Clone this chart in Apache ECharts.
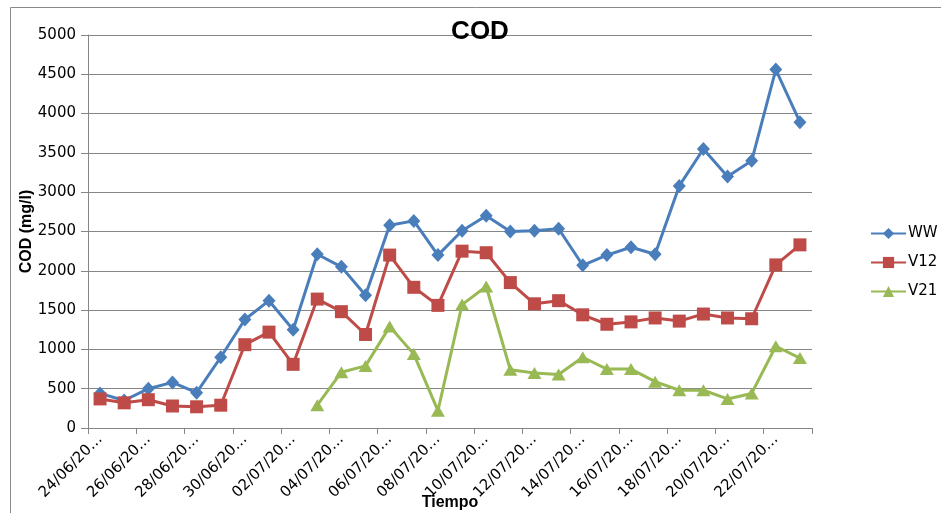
<!DOCTYPE html>
<html>
<head>
<meta charset="utf-8">
<title>COD</title>
<script src="https://cdn.jsdelivr.net/npm/echarts@6/dist/echarts.min.js"></script>
<style>
  html, body { margin: 0; padding: 0; background: #ffffff; }
  #chart { width: 941px; height: 513px; }
</style>
</head>
<body>
<div id="chart"></div>
<script>
// Sampling days (dd/mm); the axis shows them as dd/mm/20…
const days = [
  '24/06', '25/06', '26/06', '27/06', '28/06', '29/06', '30/06', '01/07',
  '02/07', '03/07', '04/07', '05/07', '06/07', '07/07', '08/07', '09/07',
  '10/07', '11/07', '12/07', '13/07', '14/07', '15/07', '16/07', '17/07',
  '18/07', '19/07', '20/07', '21/07', '22/07', '23/07'
];

// COD (mg/l) per sampling point
const ww = [
  440, 350, 500, 580, 450, 900, 1380, 1620, 1250, 2210,
  2050, 1690, 2580, 2635, 2200, 2510, 2700, 2500, 2510, 2535,
  2070, 2200, 2300, 2210, 3080, 3550, 3200, 3400, 4560, 3890
];
const v12 = [
  370, 320, 360, 280, 270, 290, 1060, 1220, 810, 1640,
  1480, 1190, 2200, 1790, 1560, 2250, 2230, 1850, 1580, 1620,
  1440, 1320, 1350, 1400, 1360, 1450, 1400, 1390, 2075, 2330
];
const v21 = [
  null, null, null, null, null, null, null, null, null, 290,
  710, 790, 1290, 940, 220, 1570, 1800, 740, 700, 680,
  900, 750, 750, 590, 480, 480, 370, 440, 1040, 890
];

const yTicks = { min: 0, max: 5000, step: 500 };

const labelFont = 'DejaVu Sans';
const titleFont = 'Liberation Sans';

const chart = echarts.init(document.getElementById('chart'), null, { renderer: 'canvas' });

function lineSeries(name, data, color, symbol, size) {
  return {
    name: name,
    type: 'line',
    data: data,
    symbol: symbol,
    symbolSize: size,
    showAllSymbol: true,
    connectNulls: false,
    lineStyle: { color: color, width: 3 },
    itemStyle: { color: color },
    emphasis: { disabled: true },
    animation: false
  };
}

chart.setOption({
  backgroundColor: '#ffffff',
  animation: false,
  title: {
    text: 'COD',
    left: 475,
    top: 14,
    textAlign: 'center',
    textStyle: { fontFamily: titleFont, fontSize: 26, fontWeight: 'bold', color: '#000' }
  },
  legend: {
    orient: 'vertical',
    left: 865,
    top: 221,
    itemWidth: 35,
    itemHeight: 14,
    itemGap: 14,
    textStyle: { fontFamily: labelFont, fontSize: 15, color: '#000', padding: [0, 0, 0, -3] },
    data: ['WW', 'V12', 'V21']
  },
  grid: { left: 88, right: 129, top: 35, bottom: 85, containLabel: false, outerBoundsMode: 'none' },
  xAxis: {
    type: 'category',
    data: days,
    boundaryGap: true,
    name: 'Tiempo',
    nameLocation: 'middle',
    nameGap: 67,
    nameMoveOverlap: false,
    nameTextStyle: { fontFamily: titleFont, fontSize: 16, fontWeight: 'bold', color: '#000' },
    axisLine: { lineStyle: { color: '#868686', width: 1 } },
    axisTick: { show: true, interval: 1, length: 6, lineStyle: { color: '#868686' } },
    axisLabel: {
      interval: 1,
      rotate: 45,
      margin: 9,
      fontFamily: labelFont,
      fontSize: 15,
      color: '#000',
      formatter: function (v) { return v + '/20\u2026'; }
    },
    splitLine: { show: false }
  },
  yAxis: {
    type: 'value',
    min: yTicks.min,
    max: yTicks.max,
    interval: yTicks.step,
    name: 'COD (mg/l)',
    nameLocation: 'middle',
    nameGap: 53,
    nameRotate: 90,
    nameMoveOverlap: false,
    nameTextStyle: { fontFamily: titleFont, fontSize: 16, fontWeight: 'bold', color: '#000' },
    axisLine: { show: true, lineStyle: { color: '#868686', width: 1 } },
    axisTick: { show: true, length: 7, lineStyle: { color: '#868686' } },
    axisLabel: {
      fontFamily: labelFont, fontSize: 15, color: '#000', margin: 12,
      formatter: function (v) { return String(v); }
    },
    splitLine: { show: true, lineStyle: { color: '#868686', width: 1 } }
  },
  series: [
    lineSeries('WW', ww, '#4A7EBB', 'diamond', [13, 14]),
    lineSeries('V12', v12, '#BE4B48', 'rect', [13, 13]),
    lineSeries('V21', v21, '#98B954', 'triangle', [14, 12])
  ],
  graphic: [
    {
      type: 'polyline',
      silent: true,
      shape: { points: [[10.5, 520], [10.5, 7.5], [945, 7.5]] },
      style: { stroke: '#8a8a8a', lineWidth: 1, fill: null }
    }
  ]
});
</script>
</body>
</html>
